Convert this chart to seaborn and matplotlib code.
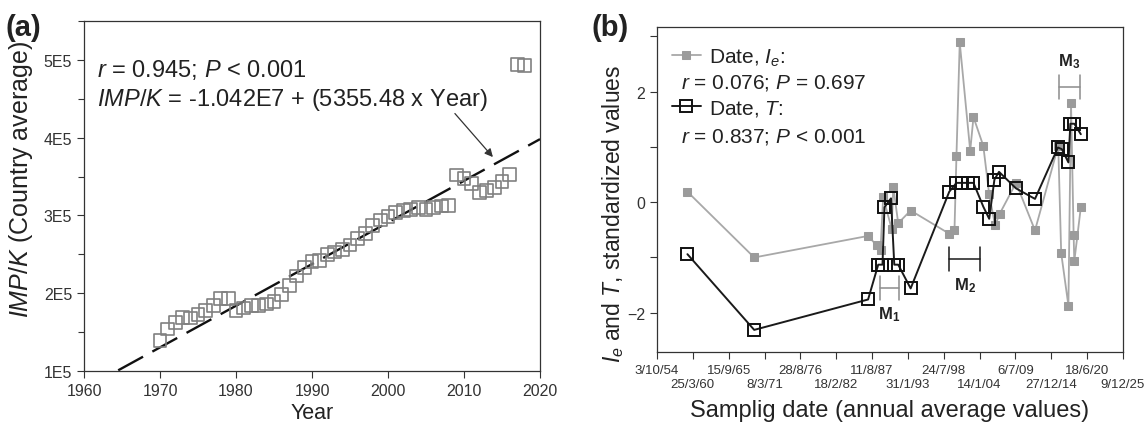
import numpy as np
import pandas as pd
import matplotlib
matplotlib.use("Agg")
import matplotlib.pyplot as plt
import matplotlib.dates as mdates
from matplotlib.ticker import FuncFormatter, MultipleLocator
import seaborn as sns

# ---- panel (a): IMP/K by year ----
years_a = list(range(1970, 2019))
impk = [1.39, 1.54, 1.62, 1.69, 1.68, 1.73, 1.78, 1.84, 1.93, 1.93,
        1.78, 1.81, 1.84, 1.84, 1.86, 1.89, 1.98, 2.10, 2.22, 2.33,
        2.41, 2.42, 2.50, 2.53, 2.56, 2.62, 2.70, 2.77, 2.87, 2.94,
        2.99, 3.04, 3.06, 3.08, 3.10, 3.08, 3.10, 3.12, 3.13, 3.52,
        3.47, 3.41, 3.29, 3.32, 3.36, 3.44, 3.53, 4.94, 4.93]  # x 1E5
fit_intercept = -1.042e7
fit_slope = 5355.48

# ---- panel (b): standardized Ie and T by sampling date ----
ie_years = [1959.4, 1969.6, 1987.0, 1988.3, 1988.9, 1989.3, 1990.6, 1990.85,
            1991.6, 1993.5, 1999.4, 2000.2, 2000.5, 2001.0, 2002.6, 2003.1,
            2004.6, 2005.5, 2006.4, 2007.1, 2009.6, 2012.5, 2016.05, 2016.5,
            2017.6, 2018.0, 2018.4, 2018.5, 2019.5]
ie_vals = [0.19, -1.0, -0.61, -0.78, -0.87, 0.09, -0.48, 0.28,
           -0.38, -0.15, -0.57, -0.50, 0.84, 2.89, 0.93, 1.54,
           1.02, 0.14, -0.42, -0.21, 0.35, -0.51, 1.02, -0.92,
           -1.87, 1.80, -0.60, -1.07, -0.09]
t_years = [1959.4, 1969.6, 1987.0, 1988.55, 1989.2, 1989.5, 1990.5, 1991.0,
           1991.6, 1993.5, 1999.4, 2000.5, 2001.4, 2002.3, 2003.1, 2004.6,
           2005.5, 2006.3, 2007.0, 2009.6, 2012.5, 2016.0, 2016.6, 2017.6,
           2017.9, 2018.5, 2019.5]
t_vals = [-0.94, -2.31, -1.76, -1.13, -1.13, -0.09, 0.07, -1.13,
          -1.13, -1.56, 0.19, 0.35, 0.35, 0.35, 0.35, -0.08,
          -0.30, 0.41, 0.55, 0.25, 0.06, 0.99, 0.96, 0.72,
          1.42, 1.42, 1.23]
tick_serials = list(range(20000, 46001, 2000))  # excel day numbers

# period brackets: (name, start year, end year, y level, colour)
periods = [("1", 1988.8, 1991.75, -1.55, "#8c8c8c"),
           ("2", 1999.4, 2004.1, -1.03, "#1a1a1a"),
           ("3", 2016.2, 2019.3, 2.09, "#8c8c8c")]


def to_date(y):
    yr = int(y)
    return pd.Timestamp(year=yr, month=1, day=1) + pd.Timedelta(days=(y - yr) * 365.25)


def serial_date(s):
    return pd.Timestamp("1899-12-30") + pd.Timedelta(days=s)


sns.set_style("ticks")
plt.rcParams["font.family"] = ["Liberation Sans", "DejaVu Sans"]
plt.rcParams["mathtext.fontset"] = "custom"
plt.rcParams["mathtext.rm"] = "Liberation Sans"
plt.rcParams["mathtext.it"] = "Liberation Sans:italic"
plt.rcParams["mathtext.bf"] = "Liberation Sans:bold"
plt.rcParams["text.color"] = "#222222"
plt.rcParams["axes.labelcolor"] = "#222222"
plt.rcParams["xtick.color"] = "#333333"
plt.rcParams["ytick.color"] = "#333333"

fig = plt.figure(figsize=(11.48, 4.31), dpi=100)
ax1 = fig.add_axes([0.0732, 0.137, 0.3972, 0.812])
ax2 = fig.add_axes([0.5723, 0.181, 0.4059, 0.754])

# ---------- (a) ----------
df_a = pd.DataFrame({"year": years_a, "impk": np.array(impk) * 1e5})
sns.scatterplot(data=df_a, x="year", y="impk", ax=ax1, marker="s", s=85,
                facecolor="none", edgecolor="#808080", linewidth=1.2, zorder=3)
fit_x = np.array([1960, 2020])
sns.lineplot(x=fit_x, y=fit_intercept + fit_slope * fit_x, ax=ax1,
             color="#111111", lw=1.7, dashes=(12, 4.5), zorder=2)
ax1.set_xlim(1960, 2020)
ax1.set_ylim(1e5, 5.5e5)
ax1.xaxis.set_major_locator(MultipleLocator(10))
ax1.yaxis.set_major_locator(MultipleLocator(1e5))
ax1.yaxis.set_minor_locator(MultipleLocator(0.5e5))
ax1.yaxis.set_major_formatter(FuncFormatter(lambda v, p: f"{v / 1e5:.0f}E5"))
ax1.set_xlabel("Year", fontsize=15.5, labelpad=3)
ax1.set_ylabel("$IMP/K$ (Country average)", fontsize=18)
ax1.yaxis.set_label_coords(-0.107, 0.551)
ax1.tick_params(axis="both", which="major", labelsize=11.5, length=5, width=0.8)
ax1.tick_params(axis="y", which="minor", length=4, width=0.8)
ax1.text(0.028, 0.863, "$r$ = 0.945; $P$ < 0.001", transform=ax1.transAxes,
         fontsize=17, va="center")
ax1.text(0.028, 0.777, "$IMP/K$ = -1.042E7 + (5355.48 x Year)",
         transform=ax1.transAxes, fontsize=17, va="center")
ax1.annotate("", xy=(2013.8, 3.75e5), xytext=(2008.8, 4.31e5),
             arrowprops=dict(arrowstyle="-|>", lw=0.9, color="#333333",
                             mutation_scale=12, shrinkA=0, shrinkB=0))

# ---------- (b) ----------
df_ie = pd.DataFrame({"date": [to_date(y) for y in ie_years], "val": ie_vals})
df_t = pd.DataFrame({"date": [to_date(y) for y in t_years], "val": t_vals})
sns.lineplot(data=df_ie, x="date", y="val", ax=ax2, sort=False, color="#a8a8a8",
             lw=1.3, marker="s", markersize=5.5, markerfacecolor="#9b9b9b",
             markeredgecolor="#9b9b9b", label="Date, $I_e$:", zorder=2)
sns.lineplot(data=df_t, x="date", y="val", ax=ax2, sort=False, color="#1a1a1a",
             lw=1.4, marker="s", markersize=8, markerfacecolor="none",
             markeredgecolor="#111111", markeredgewidth=1.4,
             label="Date, $T$:", zorder=3)

ticks = [mdates.date2num(serial_date(s)) for s in tick_serials]
labels = []
for s in tick_serials:
    d = serial_date(s)
    labels.append(f"{d.day}/{d.month}/{d.strftime('%y')}")
ax2.set_xlim(ticks[0], ticks[-1])
ax2.set_xticks(ticks)
ax2.set_xticklabels(labels)
ax2.set_ylim(-2.71, 3.17)
ax2.yaxis.set_major_locator(MultipleLocator(2))
ax2.yaxis.set_minor_locator(MultipleLocator(1))
ax2.tick_params(axis="both", which="major", labelsize=11.5, length=5, width=0.8)
ax2.tick_params(axis="x", labelsize=9.5)
ax2.tick_params(axis="y", which="minor", length=5, width=0.8)
for i, tk in enumerate(ax2.xaxis.get_major_ticks()):
    tk.set_pad(3.5 if i % 2 == 0 else 14)
ax2.set_xlabel("Samplig date (annual average values)", fontsize=17, labelpad=6)
ax2.set_ylabel("$I_e$ and $T$, standardized values", fontsize=16.5)
ax2.yaxis.set_label_coords(-0.066, 0.428)

for name, x0, x1, yl, col in periods:
    d0 = mdates.date2num(to_date(x0))
    d1 = mdates.date2num(to_date(x1))
    h = 0.22
    ax2.plot([d0, d1], [yl, yl], color=col, lw=1.1)
    ax2.plot([d0, d0], [yl - h, yl + h], color=col, lw=1.1)
    ax2.plot([d1, d1], [yl - h, yl + h], color=col, lw=1.1)
    if name == "3":
        ax2.text((d0 + d1) / 2, yl + 0.3, f"$\\mathbf{{M}}_\\mathbf{{{name}}}$",
                 ha="center", va="bottom", fontsize=12, color="#222222")
    else:
        ax2.text((d0 + d1) / 2, yl - 0.3, f"$\\mathbf{{M}}_\\mathbf{{{name}}}$",
                 ha="center", va="top", fontsize=12, color="#222222")

leg = ax2.legend(loc="upper left", bbox_to_anchor=(0.0, 0.985), frameon=False,
                 fontsize=15, handlelength=1.4, handletextpad=0.4,
                 labelspacing=1.45, borderaxespad=0.3)
ax2.text(0.0515, 0.831, "$r$ = 0.076; $P$ = 0.697", transform=ax2.transAxes,
         fontsize=15, va="center")
ax2.text(0.0515, 0.665, "$r$ = 0.837; $P$ < 0.001", transform=ax2.transAxes,
         fontsize=15, va="center")

for ax in (ax1, ax2):
    for sp in ax.spines.values():
        sp.set_color("#333333")
        sp.set_linewidth(0.9)

fig.text(0.005, 0.935, "(a)", fontsize=21, fontweight="bold", va="center")
fig.text(0.515, 0.935, "(b)", fontsize=21, fontweight="bold", va="center")

fig.savefig("out.png", dpi=100)
